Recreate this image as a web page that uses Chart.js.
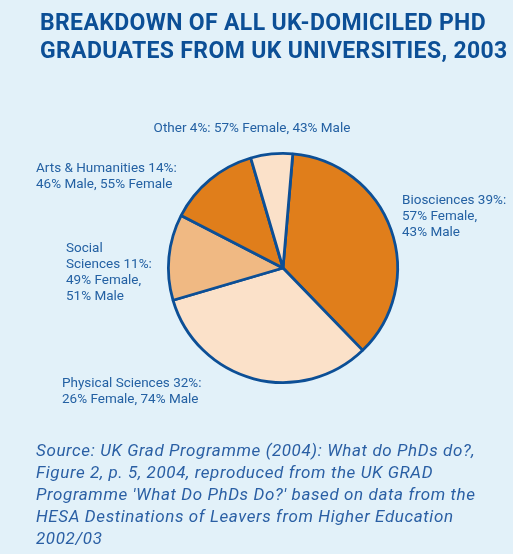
<!DOCTYPE html>
<html>
<head>
<meta charset="utf-8">
<script src="https://cdn.jsdelivr.net/npm/chart.js@4.4.1/dist/chart.umd.min.js"></script>
<style>
  html, body { margin: 0; padding: 0; }
  body { width: 513px; height: 554px; background: #e2f1f9; position: relative; overflow: hidden; font-family: Roboto, 'Open Sans', sans-serif; }
  #title { position: absolute; left: 40px; top: 9px; color: #0c4f96; font-weight: 700; font-size: 23px; line-height: 28px; letter-spacing: 0.35px; white-space: nowrap; }
  #source { position: absolute; left: 36px; top: 439px; color: #2a5fa4; font-style: italic; font-size: 17px; line-height: 22px; letter-spacing: 0.6px; white-space: nowrap; }
  #wrap { position: absolute; left: 0; top: 0; width: 513px; height: 554px; }
</style>
</head>
<body>
<div id="wrap"><canvas id="pie"></canvas></div>
<div id="title">BREAKDOWN OF ALL UK-DOMICILED PHD<br>GRADUATES FROM UK UNIVERSITIES, 2003</div>
<div id="source">Source: UK Grad Programme (2004): What do PhDs do?,<br>Figure 2, p. 5, 2004, reproduced from the UK GRAD<br>Programme 'What Do PhDs Do?' based on data from the<br>HESA Destinations of Leavers from Higher Education<br>2002/03</div>
<script>
// slice order clockwise from just right of 12 o'clock
const categories = ['Biosciences', 'Physical Sciences', 'Social Sciences', 'Arts & Humanities', 'Other'];
// shares as drawn in the picture (angle of each slice / 360)
const shares = [36.4, 32.7, 12.1, 12.9, 5.9];
const labelLines = [
  ['Biosciences 39%:', '57% Female,', '43% Male'],
  ['Physical Sciences 32%:', '26% Female, 74% Male'],
  ['Social', 'Sciences 11%:', '49% Female,', '51% Male'],
  ['Arts & Humanities 14%:', '46% Male, 55% Female'],
  ['Other 4%: 57% Female, 43% Male']
];

const sliceColors = ['#e07e1b', '#fbe1c9', '#f0b983', '#e07e1b', '#fbe1c9'];

// where each label's first line sits (offset from pie centre) and its alignment
const labelLayout = [
  { dx: 119, dy: -67, align: 'left' },
  { dx: -221, dy: 116, align: 'left' },
  { dx: -217, dy: -19, align: 'left' },
  { dx: -247, dy: -99, align: 'left' },
  { dx: -31, dy: -139, align: 'center' }
];

const sliceLabels = {
  id: 'sliceLabels',
  afterDraw(chart) {
    const ctx = chart.ctx;
    const arc = chart.getDatasetMeta(0).data[0];
    const cx = arc.x, cy = arc.y;
    ctx.save();
    ctx.fillStyle = '#2461a3';
    ctx.font = '13.5px Roboto, "Open Sans", sans-serif';
    ctx.textBaseline = 'middle';
    labelLines.forEach((lines, i) => {
      const l = labelLayout[i];
      ctx.textAlign = l.align;
      lines.forEach((t, j) => ctx.fillText(t, cx + l.dx, cy + l.dy + j * 16));
    });
    ctx.restore();
  }
};

new Chart(document.getElementById('pie'), {
  type: 'pie',
  data: {
    labels: categories,
    datasets: [{
      data: shares,
      backgroundColor: sliceColors,
      borderColor: '#0c4f96',
      borderWidth: 2.8
    }]
  },
  options: {
    responsive: true,
    maintainAspectRatio: false,
    animation: false,
    rotation: 4.9,
    layout: { padding: { left: 167, right: 114, top: 152, bottom: 170 } },
    plugins: {
      legend: { display: false },
      tooltip: { enabled: false }
    }
  },
  plugins: [sliceLabels]
});
</script>
</body>
</html>
